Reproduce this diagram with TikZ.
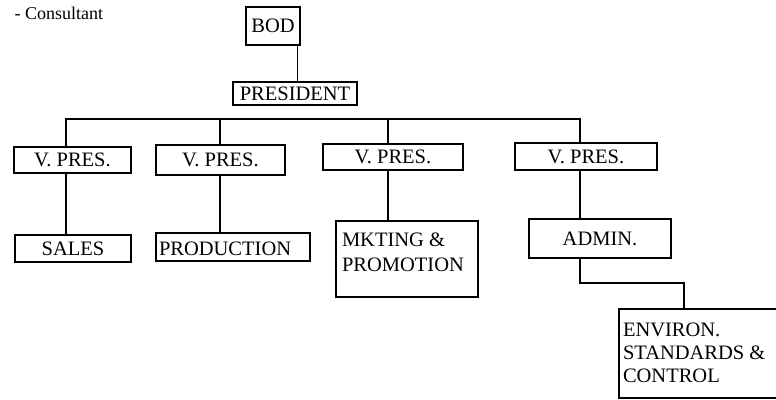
\documentclass[tikz,border=0pt]{standalone}
\usepackage{fontspec}
\setmainfont{Liberation Serif}
\begin{document}
\begin{tikzpicture}[x=1pt, y=-1pt, line width=1.3pt,
  txt/.style={font=\fontsize{20.5}{23}\selectfont},
  box/.style={draw, rectangle, inner sep=0pt, txt},
  inlabel/.style={txt, inner sep=0pt, align=left}]
\useasboundingbox (0,0) rectangle (776,399);
\clip (0,0) rectangle (776,399);

% note in the top left corner
\node[anchor=base west, inner sep=0pt, font=\fontsize{18}{20}\selectfont] (note) at (14,19) {- Consultant};

% top of the chart
\node[box, minimum width=54pt, minimum height=38pt] (bod) at (273,26) {BOD};
\node[box, minimum width=124pt, minimum height=23pt] (pres) at (295,93.5) {PRESIDENT};

% vice presidents
\node[box, minimum width=117pt, minimum height=26pt] (vp1) at (72.5,160) {V. PRES.};
\node[box, minimum width=129pt, minimum height=30pt] (vp2) at (220.5,160) {V. PRES.};
\node[box, minimum width=140pt, minimum height=26pt] (vp3) at (393,157) {V. PRES.};
\node[box, minimum width=142pt, minimum height=27pt] (vp4) at (586,156.5) {V. PRES.};

% departments
\node[box, minimum width=116pt, minimum height=27pt] (sales) at (73,248.5) {SALES};
\node[box, minimum width=154pt, minimum height=28pt,
  label={[inlabel, anchor=west, xshift=3pt, yshift=-2pt]west:PRODUCTION}] (prod) at (233,247) {};
\node[box, minimum width=142pt, minimum height=76pt,
  label={[inlabel, font=\fontsize{20.5}{25}\selectfont, anchor=north west, xshift=6pt, yshift=-12pt]north west:{MKTING \&\\PROMOTION}}] (mkt) at (407,259) {};
\node[box, minimum width=142pt, minimum height=39pt] (admin) at (600,238.5) {ADMIN.};
\node[box, minimum width=180pt, minimum height=89pt,
  label={[inlabel, anchor=north west, xshift=4pt, yshift=-14pt]north west:{ENVIRON.\\STANDARDS \&\\CONTROL}}] (env) at (709,353.5) {};

% board to president
\draw ([xshift=-3pt]bod.south east) -- ([xshift=-3pt]bod.south east |- pres.north);

% bus over the vice presidents
\coordinate (bus) at (0,119);
\draw (vp1.north -| 66,0) -- (bus -| 66,0) -- (bus -| 580,0) -- (vp4.north -| 580,0);
\draw (bus -| 220,0) -- (vp2.north -| 220,0);
\draw (bus -| 388,0) -- (vp3.north -| 388,0);

% vice presidents to departments
\draw (vp1.south -| 66,0) -- (sales.north -| 66,0);
\draw (vp2.south -| 220,0) -- (prod.north -| 220,0);
\draw (vp3.south -| 388,0) -- (mkt.north -| 388,0);
\draw (vp4.south -| 580,0) -- (admin.north -| 580,0);

% admin to environment
\draw (admin.south -| 580,0) -- (580,283) -- (684,283) -- (env.north -| 684,0);
\end{tikzpicture}
\end{document}
